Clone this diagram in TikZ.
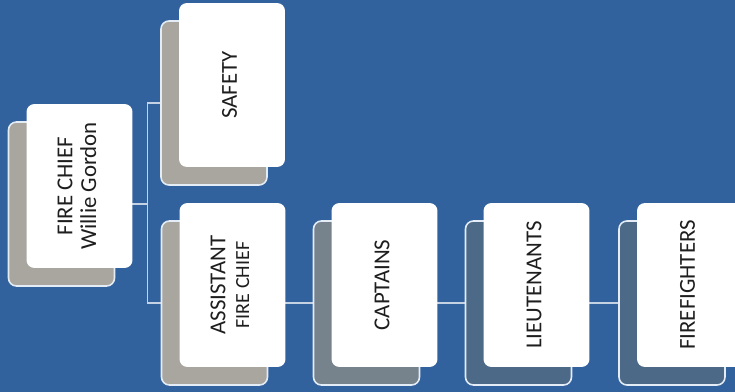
\documentclass[tikz,border=0pt]{standalone}
\usepackage{fontspec}
\setmainfont{Carlito}
\usepackage{graphicx}
\usetikzlibrary{calc,positioning,backgrounds}
\definecolor{chartblue}{RGB}{50,98,158}
\definecolor{cardgray}{RGB}{168,166,158}
\definecolor{cardslate}{RGB}{118,130,140}
\definecolor{cardsteel}{RGB}{76,106,136}
\definecolor{cardedge}{RGB}{228,236,246}
\definecolor{linkgray}{RGB}{196,210,228}
\definecolor{inkdark}{RGB}{30,30,30}
\newcommand{\uplabel}[1]{\rotatebox{90}{\begin{tabular}{@{}c@{}}#1\end{tabular}}}

\begin{document}
\begin{tikzpicture}[
    x=0.02cm, y=-0.02cm,
    back card/.style={draw=cardedge, line width=0.9pt, rounded corners=4.5pt,
        minimum width=2.12cm, minimum height=3.28cm, inner sep=0pt},
    front card/.style={fill=white, rounded corners=4.5pt, text=inkdark,
        minimum width=2.12cm, minimum height=3.28cm, inner sep=0pt,
        font=\fontsize{13}{13.6}\selectfont},
    link/.style={linkgray, line width=0.7pt}
]

\useasboundingbox (0,0) rectangle (735,392);

% Back cards
\node[back card, fill=cardgray] (chief-b) at (61.5,204) {};
\node[back card, fill=cardgray] (safety-b) at (214,103) {};
\node[back card, fill=cardgray] (assist-b) at (214.5,303) {};
\node[back card, fill=cardslate] (capt-b) at (366.5,303) {};
\node[back card, fill=cardsteel] (lieut-b) at (518.5,303) {};
\node[back card, fill=cardsteel] (fire-b) at (672,303) {};

% Front cards
\node[front card] (chief) at ($(chief-b)+(18,-18)$) {\uplabel{FIRE CHIEF\\Willie Gordon}};
\node[front card] (safety) at ($(safety-b)+(18,-18)$) {\uplabel{SAFETY}};
\node[front card] (assist) at ($(assist-b)+(18,-18)$) {\uplabel{ASSISTANT\\{\fontsize{11.4}{13}\selectfont FIRE CHIEF}}};
\node[front card] (capt) at ($(capt-b)+(18,-18)$) {\uplabel{CAPTAINS}};
\node[front card] (lieut) at ($(lieut-b)+(18,-18)$) {\uplabel{LIEUTENANTS}};
\node[front card] (fire) at ($(fire-b)+(18,-18)$) {\uplabel{FIREFIGHTERS}};

% Background and connectors
\begin{scope}[on background layer]
\fill[chartblue] (0,0) rectangle (735,392);
\coordinate (trunk) at ($(chief-b.east)+(32,0)$);
\draw[link] (chief-b.east) -- (trunk);
\draw[link] (safety-b.west) -| (trunk) |- (assist-b.west);
\draw[link] (assist-b.east) -- (capt-b.west);
\draw[link] (capt-b.east) -- (lieut-b.west);
\draw[link] (lieut-b.east) -- (fire-b.west);
\end{scope}

\end{tikzpicture}
\end{document}
